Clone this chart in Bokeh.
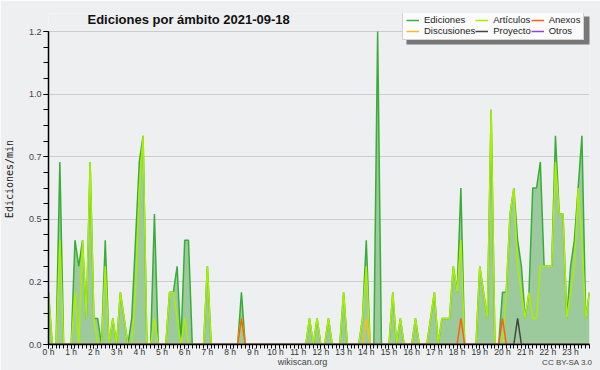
from bokeh.plotting import figure
from bokeh.models import (ColumnDataSource, FixedTicker, Legend, LegendItem, Label,
                          Range1d, BoxAnnotation)
from bokeh.embed import file_html
from bokeh.resources import INLINE

# time bins: 10-minute steps over the day (in minutes)
minutes = list(range(0, 1440, 10))

# Ediciones per minute (total), one value per 10-minute bin
ediciones = [
    0.2, 0, 0, 0.7, 0, 0, 0, 0.4, 0.3, 0.4, 0.1, 0.7,
    0.1, 0.1, 0, 0.4, 0, 0.1, 0, 0.2, 0.1, 0, 0.1, 0.4,
    0.7, 0.8, 0, 0, 0.5, 0, 0, 0, 0.2, 0.2, 0.3, 0,
    0.4, 0.4, 0, 0, 0, 0, 0.3, 0, 0, 0, 0, 0,
    0, 0, 0, 0.2, 0, 0, 0, 0, 0, 0, 0, 0,
    0, 0, 0, 0, 0, 0, 0, 0, 0, 0.1, 0, 0.1,
    0, 0, 0.1, 0, 0, 0, 0.2, 0, 0, 0, 0, 0.1,
    0.4, 0, 0, 1.2, 0, 0, 0, 0.2, 0, 0.1, 0, 0,
    0, 0.1, 0, 0, 0, 0.1, 0.2, 0, 0.1, 0.1, 0.1, 0.3,
    0.2, 0.6, 0, 0, 0, 0, 0.3, 0.2, 0.1, 0.9, 0, 0,
    0.2, 0.2, 0.5, 0.6, 0.4, 0.3, 0.1, 0.2, 0.6, 0.6, 0.7, 0.3,
    0.3, 0.3, 0.8, 0.5, 0.5, 0.1, 0.3, 0.4, 0.6, 0.8, 0.1, 0.2,
]

articulos = [
    0.2, 0, 0, 0.4, 0, 0, 0, 0.2, 0, 0.4, 0.1, 0.7,
    0.1, 0, 0, 0.3, 0, 0.1, 0, 0.2, 0.1, 0, 0, 0.2,
    0.6, 0.8, 0, 0, 0.1, 0, 0, 0, 0.2, 0.2, 0.1, 0,
    0.1, 0, 0, 0, 0, 0, 0.3, 0, 0, 0, 0, 0,
    0, 0, 0, 0.1, 0, 0, 0, 0, 0, 0, 0, 0,
    0, 0, 0, 0, 0, 0, 0, 0, 0, 0.1, 0, 0.1,
    0, 0, 0.1, 0, 0, 0, 0.2, 0, 0, 0, 0, 0.1,
    0.3, 0, 0, 0, 0, 0, 0, 0.2, 0, 0.1, 0, 0,
    0, 0.1, 0, 0, 0, 0.1, 0.2, 0, 0.1, 0.1, 0.1, 0.3,
    0.2, 0.4, 0, 0, 0, 0, 0.3, 0.2, 0.1, 0.9, 0, 0,
    0, 0.2, 0.5, 0.6, 0.3, 0.2, 0.1, 0.2, 0.1, 0.1, 0.3, 0.3,
    0.3, 0.3, 0.7, 0.5, 0.5, 0.1, 0.2, 0.3, 0.6, 0.4, 0.1, 0.2,
]

# sparse series: minute of bin -> edits per minute
anexos_nonzero = {510: 0.1, 1090: 0.1, 1200: 0.1}
discusiones_nonzero = {840: 0.1}
proyecto_nonzero = {1240: 0.1}
otros_nonzero = {}

hour_ticks = list(range(24))
hour_labels = ["0 h", "1 h", "2 h", "3 h", "4 h", "5 h", "6 h", "7 h", "8 h", "9 h",
               "10 h", "11 h", "12 h", "13 h", "14 h", "15 h", "16 h", "17 h",
               "18 h", "19 h", "20 h", "21 h", "22 h", "23 h"]
y_ticks = [0, 0.24, 0.48, 0.72, 0.96, 1.2]
y_labels = ["0.0", "0.2", "0.5", "0.7", "1.0", "1.2"]
y_minor = [round(0.06 * k, 2) for k in range(21)]
Y_MAX = 1.2

hours = [m / 60 for m in minutes]
src = ColumnDataSource(dict(
    x=hours,
    ed=ediciones,
    art=articulos,
    anx=[anexos_nonzero.get(m, 0) for m in minutes],
    dis=[discusiones_nonzero.get(m, 0) for m in minutes],
    pro=[proyecto_nonzero.get(m, 0) for m in minutes],
    otr=[otros_nonzero.get(m, 0) for m in minutes],
))

BG = "#eeeff0"
TOP, BOTTOM, LEFT, RIGHT = 13, 26, 46, 11
W, H = 600, 370
frame_h = H - TOP - BOTTOM
plot_h = 313  # pixels from 0 to Y_MAX
p = figure(width=W, height=H, output_backend="svg", toolbar_location=None,
           x_range=Range1d(0, hours[-1]),
           y_range=Range1d(0, Y_MAX * frame_h / plot_h),
           min_border_left=LEFT, min_border_right=RIGHT, min_border_top=TOP,
           min_border_bottom=BOTTOM, background_fill_color=BG, border_fill_color=BG)
p.outline_line_color = None

p.varea(x="x", y1=0, y2="ed", source=src, fill_color="#9dca9d", fill_alpha=1)
r_ed = p.line("x", "ed", source=src, line_color="#38ad38", line_width=1.5)
r_art = p.line("x", "art", source=src, line_color="#aaee00", line_width=1.5)
r_dis = p.line("x", "dis", source=src, line_color="#f0c020", line_width=1.5)
r_anx = p.line("x", "anx", source=src, line_color="#ff6010", line_width=1.5)
r_pro = p.line("x", "pro", source=src, line_color="#444444", line_width=1.5)
r_otr = p.line("x", "otr", source=src, line_color="#9a40e0", line_width=1.5)

# axes
xa = p.xaxis[0]
xa.ticker = FixedTicker(ticks=hour_ticks, minor_ticks=hours)
xa.major_label_overrides = dict(zip(hour_ticks, hour_labels))
xa.major_tick_out = 4
xa.major_tick_in = 0
xa.minor_tick_out = 4
xa.minor_tick_in = 0
xa.major_label_standoff = -2
xa.major_label_text_font = "Liberation Sans"
xa.major_label_text_font_size = "8.5px"
xa.major_label_text_color = "#333333"
xa.axis_line_color = "black"
xa.axis_line_width = 1.5
xa.major_tick_line_color = "black"
xa.minor_tick_line_color = "black"

ya = p.yaxis[0]
ya.bounds = (0, Y_MAX)
ya.ticker = FixedTicker(ticks=y_ticks, minor_ticks=y_minor)
ya.major_label_overrides = dict(zip(y_ticks, y_labels))
ya.major_tick_out = 5
ya.major_tick_in = 0
ya.minor_tick_out = 5
ya.minor_tick_in = 0
ya.major_label_standoff = 2
ya.major_label_text_font = "Liberation Sans"
ya.major_label_text_font_size = "9px"
ya.major_label_text_color = "#444444"
ya.axis_line_color = "black"
ya.axis_line_width = 1.5
ya.major_tick_line_color = "black"
ya.minor_tick_line_color = "black"
ya.axis_label = "Ediciones/min"
ya.axis_label_text_font = "DejaVu Sans Mono"
ya.axis_label_text_font_style = "normal"
ya.axis_label_text_font_size = "10px"
ya.axis_label_text_color = "#222222"
ya.axis_label_standoff = 11

p.xgrid.visible = False
p.ygrid.ticker = FixedTicker(ticks=y_ticks)
p.ygrid.grid_line_color = "#cccccc"
p.ygrid.grid_line_width = 1

# legend shadow + legend (screen units relative to the frame's bottom-left)
fb = H - BOTTOM  # frame bottom in canvas pixels
LEG_H = 28
LEG_L, LEG_R, LEG_T = 400, 586, 12
shadow = BoxAnnotation(left=LEG_L + 4 - LEFT, right=LEG_R + 4 - LEFT,
                       top=fb - LEG_T - 4, bottom=fb - LEG_T - 4 - LEG_H,
                       left_units="screen", right_units="screen",
                       top_units="screen", bottom_units="screen",
                       fill_color="#777777", fill_alpha=1, line_color=None)
p.add_layout(shadow)

legend = Legend(items=[
    LegendItem(label="Ediciones", renderers=[r_ed]),
    LegendItem(label="Artículos", renderers=[r_art]),
    LegendItem(label="Anexos", renderers=[r_anx]),
    LegendItem(label="Discusiones", renderers=[r_dis]),
    LegendItem(label="Proyecto", renderers=[r_pro]),
    LegendItem(label="Otros", renderers=[r_otr]),
], location=(LEG_L - LEFT, fb - LEG_T - LEG_H), orientation="horizontal", ncols=3)
legend.label_text_font = "Liberation Sans"
legend.label_text_font_size = "9.5px"
legend.label_text_color = "#222222"
legend.label_height = 10
legend.glyph_height = 10
legend.glyph_width = 13
legend.label_standoff = 5
legend.spacing = 0
legend.padding = 3
legend.margin = 0
legend.background_fill_color = "#fbfbfb"
legend.background_fill_alpha = 1
legend.border_line_color = "#aaaaaa"
p.add_layout(legend, "center")

# title (inside the frame area, above the plotted range)
p.add_layout(Label(x=85 - LEFT, y=fb - 19, x_units="screen", y_units="screen",
                   text="Ediciones por ámbito  2021-09-18",
                   text_font="Liberation Sans", text_font_style="bold",
                   text_font_size="13px", text_color="#111111",
                   text_baseline="alphabetic"))

# footer texts, hosted in side panels (side-panel annotations are not clipped)
p.add_layout(Label(x=300 - LEFT, y=8, x_units="screen", y_units="screen",
                   text="wikiscan.org", text_align="center",
                   text_font="Liberation Sans", text_font_size="9px",
                   text_color="#444444", text_baseline="alphabetic"), "below")
p.add_layout(Label(x=590 - LEFT, y=-349, x_units="screen", y_units="screen",
                   text="CC BY-SA 3.0", text_align="right",
                   text_font="Liberation Sans", text_font_size="8px",
                   text_color="#444444", text_baseline="alphabetic"), "above")

open("out.html", "w").write(file_html(p, INLINE))
